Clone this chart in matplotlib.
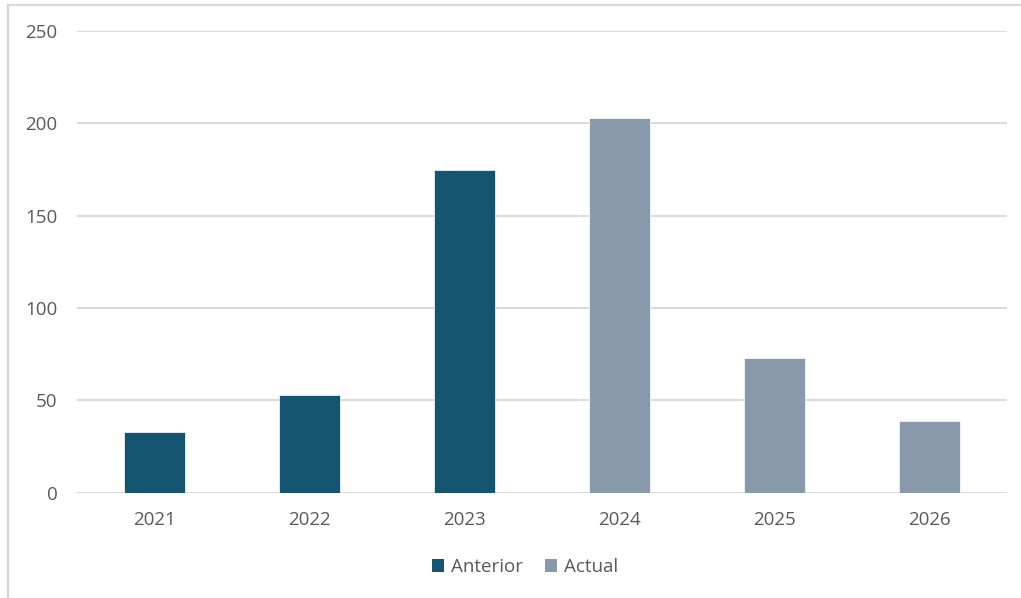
import matplotlib
matplotlib.use("Agg")
import matplotlib.pyplot as plt
from matplotlib.lines import Line2D
from matplotlib.patches import Patch

# data
years = ["2021", "2022", "2023", "2024", "2025", "2026"]
values = [33, 53, 175, 203, 73, 39]
series = ["Anterior", "Anterior", "Anterior", "Actual", "Actual", "Actual"]
series_names = ["Anterior", "Actual"]
series_colors = {"Anterior": "#145470", "Actual": "#8799AA"}
y_ticks = [0, 50, 100, 150, 200, 250]

TEXT = "#595959"
GRID = "#D9D9D9"

plt.rcParams["font.family"] = ["Open Sans", "DejaVu Sans"]

fig = plt.figure(figsize=(10.21, 5.98), dpi=100)
ax = fig.add_axes([0.0754, 0.1761, 0.911, 0.772])

x = range(len(years))
ax.bar(x, values, width=0.395, color=[series_colors[s] for s in series],
       edgecolor="white", linewidth=0.5, zorder=3)

ax.set_xlim(-0.5, len(years) - 0.5)
ax.set_ylim(0, 250)
ax.set_yticks(y_ticks)
ax.set_xticks(list(x))
ax.set_xticklabels(years)
ax.yaxis.grid(True, color=GRID, linewidth=1.4, zorder=0)
ax.set_axisbelow(True)
for side in ["top", "right", "left", "bottom"]:
    ax.spines[side].set_visible(False)
ax.tick_params(axis="both", length=0, labelsize=13.5, labelcolor=TEXT)
ax.tick_params(axis="y", pad=14)
ax.tick_params(axis="x", pad=13)

# legend below the plot
handles = [Patch(facecolor=series_colors[n], edgecolor="none", label=n) for n in series_names]
fig.legend(handles=handles, loc="center", bbox_to_anchor=(525 / 1021, 1 - 567 / 598),
           ncol=2, frameon=False, fontsize=13.5, labelcolor=TEXT,
           handlelength=0.65, handleheight=0.65, handletextpad=0.35, columnspacing=1.2)

# chart border (left and top edges visible in the reference)
fig.add_artist(Line2D([8 / 1021, 8 / 1021], [0, 1 - 5 / 598], transform=fig.transFigure,
                      color=GRID, linewidth=1.6))
fig.add_artist(Line2D([8 / 1021, 1], [1 - 5 / 598, 1 - 5 / 598], transform=fig.transFigure,
                      color=GRID, linewidth=1.6))

fig.savefig("out.png", dpi=100)
plt.close(fig)
